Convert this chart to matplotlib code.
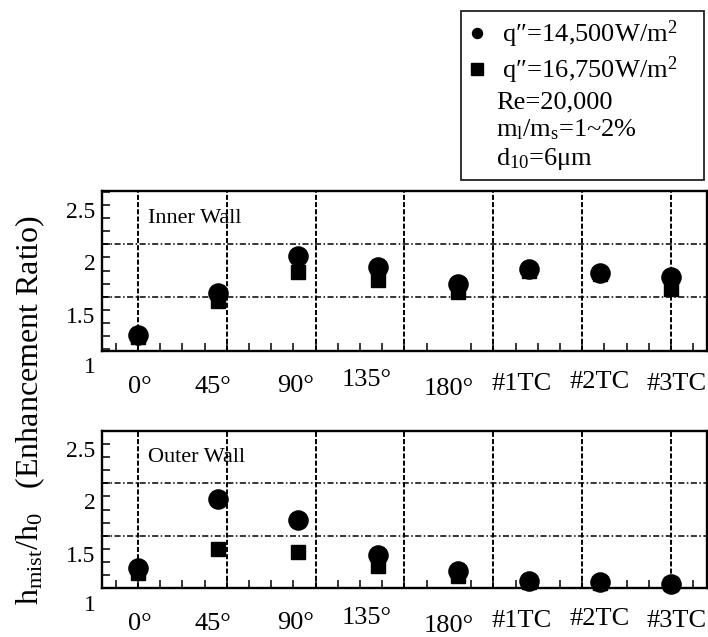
import matplotlib
matplotlib.use("Agg")
import matplotlib.pyplot as plt
from matplotlib.lines import Line2D
from matplotlib.transforms import ScaledTranslation, blended_transform_factory
import numpy as np

plt.rcParams['font.family'] = ['Liberation Serif', 'DejaVu Serif']
plt.rcParams['mathtext.fontset'] = 'custom'
plt.rcParams['mathtext.rm'] = 'Liberation Serif'
plt.rcParams['mathtext.it'] = 'Liberation Serif:italic'
plt.rcParams['mathtext.bf'] = 'Liberation Serif:bold'

# ---- data ----
locations = ['0\u00b0', '45\u00b0', '90\u00b0', '135\u00b0', '180\u00b0', '#1TC', '#2TC', '#3TC']
x_pos = [0, 45, 90, 135, 180, 220, 260, 300]

inner_q14500 = [1.26, 1.665, 2.01, 1.905, 1.745, 1.895, 1.85, 1.81]
inner_q16750 = [1.24, 1.59, 1.86, 1.79, 1.67, 1.87, 1.84, 1.70]
outer_q14500 = [1.315, 1.975, 1.77, 1.443, 1.283, 1.195, 1.18, 1.163]
outer_q16750 = [1.27, 1.50, 1.471, 1.33, 1.24, 1.18, 1.17, 1.16]

y_major = [1.5, 2.0, 2.5]
y_labels = ['1.5', '2', '2.5']

# ---- layout ----
label_pos = [1, 42, 89, 129, 175, 216, 260, 303]
label_dy = [4.0, 4.0, 3.4, -0.7, 5.2, 1.8, 0.4, 1.8]   # points, positive = down
v_grid = [0, 50, 100, 150, 200, 250, 300]
h_grid = [1.625, 2.13]

fig = plt.figure(figsize=(7.08, 6.37), dpi=100)
ax_in = fig.add_axes([0.1445, 0.449, 0.8535, 0.2512])
ax_out = fig.add_axes([0.1445, 0.0764, 0.8535, 0.2470])

panels = [
    (ax_in, inner_q14500, inner_q16750, 'Inner Wall', (1.11, 2.633)),
    (ax_out, outer_q14500, outer_q16750, 'Outer Wall', (1.12, 2.627)),
]

for ax, circ, sq, title, ylim in panels:
    ax.set_xlim(-20, 320)
    ax.set_ylim(*ylim)
    for g in v_grid:
        ax.axvline(g, color='black', lw=1.4, ls=(0, (2.6, 1.1)), zorder=1)
    for g in h_grid:
        ax.axhline(g, color='black', lw=1.1, ls=(0, (4, 1.6, 1, 1.6)), zorder=1)

    ax.plot(x_pos, sq, ls='none', marker='s', ms=10.5, color='black', zorder=3, clip_on=False)
    ax.plot(x_pos, circ, ls='none', marker='o', ms=13.8, color='black', zorder=4, clip_on=False)

    for s in ax.spines.values():
        s.set_linewidth(1.7)

    # y axis
    ax.set_yticks(y_major, y_labels)
    ax.set_yticks(np.arange(1.125, 2.626, 0.125), minor=True)
    ax.tick_params(axis='y', which='both', direction='in', length=5.8, width=1.1,
                   left=True, right=False, labelsize=17, pad=5)
    shift = ScaledTranslation(0, -5 / 100, fig.dpi_scale_trans)
    for lab in ax.get_yticklabels():
        lab.set_transform(lab.get_transform() + shift)
    # value 1 sits below the plotting area
    ax.text(0, 1.0, '1', fontsize=17, ha='right', va='center', clip_on=False,
            transform=blended_transform_factory(ax.transAxes, ax.transData)
            + ScaledTranslation(-7 / 100, -5 / 100, fig.dpi_scale_trans))

    # x axis
    ax.set_xticks(label_pos, locations)
    ax.set_xticks(np.arange(-12.5, 320, 12.5), minor=True)
    ax.tick_params(axis='x', which='major', length=0, labelsize=19, pad=14)
    ax.tick_params(axis='x', which='minor', direction='in', length=5.8, width=1.1,
                   bottom=True, top=False)
    for lab, dy in zip(ax.get_xticklabels(), label_dy):
        lab.set_transform(lab.get_transform()
                          + ScaledTranslation(0, -dy / 72, fig.dpi_scale_trans))

    ax.text(0.075, 0.829, title, transform=ax.transAxes, fontsize=16,
            ha='left', va='center')

fig.text(0.0424, 0.356, r'h$_{\mathrm{mist}}$/h$_{\mathrm{0}}$   (Enhancement Ratio)',
         rotation=90, ha='center', va='center', fontsize=23)

handles = [
    Line2D([], [], ls='none', marker='o', ms=7.2, color='black'),
    Line2D([], [], ls='none', marker='s', ms=9, color='black'),
    Line2D([], [], ls='none'),
    Line2D([], [], ls='none'),
    Line2D([], [], ls='none'),
]
labels = [' q\u2033=14,500W/m$^{2}$', ' q\u2033=16,750W/m$^{2}$', 'Re=20,000',
          r'm$_{\mathrm{l}}$/m$_{\mathrm{s}}$=1~2%', r'd$_{\mathrm{10}}$=6$\mathrm{\mu}$m']
leg = fig.legend(handles, labels, loc='upper left',
                 bbox_to_anchor=(461 / 708, 626 / 637, 243 / 708, 0.0),
                 bbox_transform=fig.transFigure, mode='expand', borderaxespad=0,
                 fontsize=19, handlelength=0.6, handletextpad=0.43, borderpad=0.3,
                 labelspacing=0.15, frameon=True, fancybox=False, framealpha=1,
                 edgecolor='#222222')
leg.get_frame().set_linewidth(1.3)

fig.savefig('out.png', dpi=100)
